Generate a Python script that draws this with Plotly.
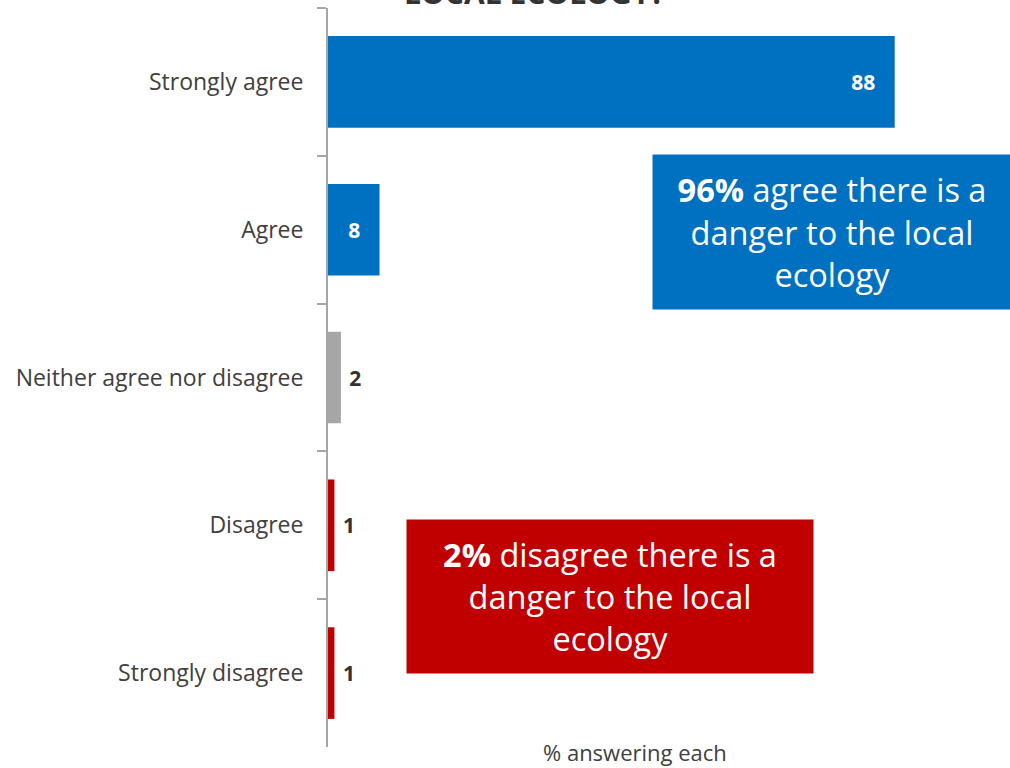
import plotly.graph_objects as go

# Antwortkategorien und Werte (% answering each)
categories = ["Strongly agree", "Agree", "Neither agree nor disagree", "Disagree", "Strongly disagree"]
values = [88, 8, 2, 1, 1]
bar_colors = ["#0070C0", "#0070C0", "#A6A6A6", "#C00000", "#C00000"]
label_inside = [True, True, False, False, False]

texts = []
positions = []
font_colors = []
for v, inside in zip(values, label_inside):
    if inside:
        texts.append(f"<b>{v}</b>" + "\u00a0" * 3)
        positions.append("inside")
        font_colors.append("white")
    else:
        texts.append(f"\u00a0<b>{v}</b>")
        positions.append("outside")
        font_colors.append("#333333")

fig = go.Figure(go.Bar(
    x=values, y=categories, orientation="h",
    marker=dict(color=bar_colors, line=dict(width=0)),
    width=0.62,
    text=texts, textposition=positions,
    insidetextanchor="end",
    textfont=dict(family="Open Sans", size=21, color=font_colors),
    cliponaxis=False,
))

fig.update_layout(
    width=1010, height=768,
    margin=dict(l=328, r=38, t=8, b=21),
    plot_bgcolor="white", paper_bgcolor="white",
    showlegend=False,
    font=dict(family="Open Sans", color="#404040"),
)

fig.update_xaxes(
    range=[0, 100], showticklabels=False, showgrid=False, zeroline=False,
    showline=False, ticks="",
)
fig.update_yaxes(
    autorange="reversed", showgrid=False, zeroline=False,
    showline=True, linecolor="#A6A6A6", linewidth=2,
    ticks="outside", tickson="boundaries", ticklen=9, tickcolor="#A6A6A6", tickwidth=2,
    ticklabelstandoff=18,
    tickfont=dict(size=23, color="#404040"),
)

# Achsentitel unten (leicht links von der Mitte)
fig.add_annotation(
    text="% answering each", xref="paper", yref="paper", x=0.4767, y=-0.0068,
    xanchor="center", yanchor="middle", showarrow=False,
    font=dict(family="Open Sans", size=22, color="#404040"),
)

# abgeschnittener Titel oben
fig.add_annotation(
    text="<b>LOCAL ECOLOGY?</b>", xref="paper", yref="paper", x=0.3214, y=0.990,
    xanchor="center", yanchor="bottom", showarrow=False,
    font=dict(family="Open Sans", size=30, color="#333333"),
)

# Zusammenfassungs-Boxen
fig.add_annotation(
    text="<b>96%</b> agree there is a<br>danger to the local<br>ecology",
    xref="paper", yref="paper", x=0.7826, y=0.6969, xanchor="center", yanchor="middle",
    showarrow=False, align="center", bgcolor="#0070C0", width=358, height=154, borderpad=0,
    font=dict(family="Open Sans", size=32.5, color="white"),
)
fig.add_annotation(
    text="<b>2%</b> disagree there is a<br>danger to the local<br>ecology",
    xref="paper", yref="paper", x=0.4379, y=0.2037, xanchor="center", yanchor="middle",
    showarrow=False, align="center", bgcolor="#C00000", width=406, height=153, borderpad=0,
    font=dict(family="Open Sans", size=32.5, color="white"),
)

# Seitenrand des Browsers entfernen, damit die Grafik bei (0, 0) beginnt
fig.write_html(
    "out.html",
    config={"displayModeBar": False},
    post_script="document.body.style.margin='0';",
)
